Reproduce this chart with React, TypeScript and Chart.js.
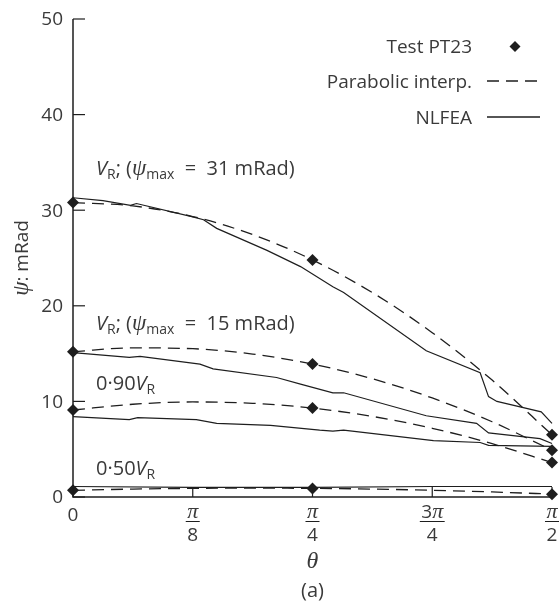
import React, { useEffect, useRef } from 'react';
import { Chart, registerables } from 'chart.js';
Chart.register(...registerables);

// ---------- data ----------
const xTickValues = [0, 1, 2, 3, 4];
const xTickNum = ['0', 'π', 'π', '3π', 'π'];
const xTickDen = ['', '8', '4', '4', '2'];
const yTickValues = [0, 10, 20, 30, 40, 50];

const testX = [0, 2, 4];
const testVR31 = [30.8, 24.8, 6.5];
const testVR15 = [15.2, 13.9, 4.9];
const test090 = [9.1, 9.3, 3.6];
const test050 = [0.7, 0.9, 0.3];

const parabX = [0, 0.5, 1, 1.5, 2, 2.5, 3, 3.5, 4];
const parabVR31 = [30.8, 30.45, 29.34, 27.45, 24.8, 21.38, 17.19, 12.23, 6.5];
const parabVR15 = [15.2, 15.6, 15.51, 14.95, 13.9, 12.37, 10.36, 7.87, 4.9];
const parab090 = [9.1, 9.7, 9.94, 9.8, 9.3, 8.43, 7.19, 5.58, 3.6];
const parab050 = [0.7, 0.83, 0.9, 0.93, 0.9, 0.83, 0.7, 0.53, 0.3];

const nlfeaX31 = [0, 0.25, 0.48, 0.53, 1.0, 1.09, 1.2, 1.62, 1.9, 2.17, 2.26, 2.95, 3.4, 3.47, 3.54, 3.91, 4.0];
const nlfeaY31 = [31.3, 31.0, 30.5, 30.7, 29.3, 29.0, 28.1, 25.8, 24.1, 22.0, 21.4, 15.3, 13.0, 10.5, 10.0, 8.9, 7.7];
const nlfeaX15 = [0, 0.47, 0.56, 1.06, 1.17, 1.7, 1.9, 2.17, 2.26, 2.95, 3.37, 3.47, 3.9, 4.0];
const nlfeaY15 = [15.1, 14.6, 14.7, 13.9, 13.4, 12.5, 11.8, 10.9, 10.9, 8.5, 7.7, 6.7, 6.1, 5.6];
const nlfeaX090 = [0, 0.47, 0.54, 1.03, 1.2, 1.65, 2.06, 2.17, 2.26, 3.01, 3.4, 3.47, 4.0];
const nlfeaY090 = [8.4, 8.1, 8.3, 8.1, 7.7, 7.5, 7.0, 6.9, 7.0, 5.9, 5.7, 5.4, 5.3];
const nlfeaX050 = [0, 1, 2, 3, 4];
const nlfeaY050 = [1.1, 1.0, 1.0, 1.1, 1.1];

// ---------- styles ----------
const SANS = '"Open Sans", "Noto Sans", sans-serif';
const SERIF = '"Liberation Serif", "DejaVu Serif", serif';
const TEXT = '#3a3a3a';
const INK = '#1e1e1e';
const FS = 19;
const AFS = 20;
const SUB = 14;

type Run = { t: string; f: string; dy?: number };

const pts = (xs: number[], ys: number[]) => xs.map((x, i) => ({ x, y: ys[i] }));

function runsWidth(ctx: CanvasRenderingContext2D, runs: Run[]) {
  let w = 0;
  for (const r of runs) {
    ctx.font = r.f;
    w += ctx.measureText(r.t).width;
  }
  return w;
}

function drawRuns(ctx: CanvasRenderingContext2D, runs: Run[], x: number, y: number, align: 'left' | 'right' | 'center') {
  const w = runsWidth(ctx, runs);
  let cx = align === 'right' ? x - w : align === 'center' ? x - w / 2 : x;
  ctx.textAlign = 'left';
  ctx.textBaseline = 'alphabetic';
  for (const r of runs) {
    ctx.font = r.f;
    ctx.fillText(r.t, cx, y + (r.dy || 0));
    cx += ctx.measureText(r.t).width;
  }
}

const sans = (s: number) => `${s}px ${SANS}`;
const isans = (s: number) => `italic ${s}px ${SANS}`;
const iserif = (s: number) => `italic ${s}px ${SERIF}`;

const annot = (n: string): Run[] => [
  { t: 'V', f: isans(AFS) }, { t: 'R', f: sans(SUB), dy: 4 }, { t: '; (', f: sans(AFS) },
  { t: 'ψ', f: iserif(AFS + 3) }, { t: 'max', f: sans(SUB), dy: 4 }, { t: '  =  ' + n + ' mRad)', f: sans(AFS) },
];

const decorPlugin = {
  id: 'decor',
  afterDraw(chart: any) {
    const { ctx, scales } = chart;
    const xs = scales.x;
    const ys = scales.y;
    const X0 = xs.getPixelForValue(0);
    const X4 = xs.getPixelForValue(4);
    const Y0 = ys.getPixelForValue(0);
    const Y50 = ys.getPixelForValue(50);
    ctx.save();
    // axes
    ctx.strokeStyle = INK;
    ctx.lineWidth = 1.5;
    ctx.setLineDash([]);
    ctx.beginPath();
    ctx.moveTo(X0, Y50);
    ctx.lineTo(X0, Y0);
    ctx.lineTo(X4, Y0);
    ctx.stroke();
    // y ticks (inward) and labels
    ctx.lineWidth = 1.2;
    ctx.fillStyle = TEXT;
    for (const v of yTickValues) {
      const py = ys.getPixelForValue(v);
      ctx.beginPath();
      ctx.moveTo(X0, py);
      ctx.lineTo(X0 + 12, py);
      ctx.stroke();
      ctx.font = sans(FS);
      ctx.textAlign = 'right';
      ctx.textBaseline = 'middle';
      ctx.fillText(String(v), X0 - 10, py + 1);
    }
    // x ticks (inward) and fraction labels
    xTickValues.forEach((v, i) => {
      const px = xs.getPixelForValue(v);
      ctx.beginPath();
      ctx.moveTo(px, Y0);
      ctx.lineTo(px, Y0 - 10);
      ctx.stroke();
      if (!xTickDen[i]) {
        ctx.font = sans(FS);
        ctx.textAlign = 'center';
        ctx.textBaseline = 'alphabetic';
        ctx.fillText(xTickNum[i], px, Y0 + 24);
      } else {
        const num = xTickNum[i];
        const runs: Run[] = num.length > 1
          ? [{ t: num[0], f: sans(FS) }, { t: num.slice(1), f: iserif(FS + 3) }]
          : [{ t: num, f: iserif(FS + 3) }];
        drawRuns(ctx, runs, px, Y0 + 21, 'center');
        const w = runsWidth(ctx, runs) + 3;
        ctx.lineWidth = 1;
        ctx.beginPath();
        ctx.moveTo(px - w / 2, Y0 + 24.5);
        ctx.lineTo(px + w / 2, Y0 + 24.5);
        ctx.stroke();
        ctx.lineWidth = 1.2;
        ctx.font = sans(FS);
        ctx.textAlign = 'center';
        ctx.textBaseline = 'alphabetic';
        ctx.fillText(xTickDen[i], px, Y0 + 44);
      }
    });
    // axis titles
    drawRuns(ctx, [{ t: 'θ', f: iserif(FS + 5) }], xs.getPixelForValue(2), 568, 'center');
    drawRuns(ctx, [{ t: '(a)', f: sans(FS + 1) }], xs.getPixelForValue(2), 597, 'center');
    ctx.save();
    ctx.translate(28, 258);
    ctx.rotate(-Math.PI / 2);
    drawRuns(ctx, [{ t: 'ψ', f: iserif(FS + 4) }, { t: ': mRad', f: sans(FS) }], 0, 0, 'center');
    ctx.restore();
    // curve annotations
    const lx = X0 + 23;
    drawRuns(ctx, annot('31'), lx, 175, 'left');
    drawRuns(ctx, annot('15'), lx, 330, 'left');
    drawRuns(ctx, [{ t: '0·90', f: sans(AFS) }, { t: 'V', f: isans(AFS) }, { t: 'R', f: sans(SUB), dy: 4 }], lx, 390, 'left');
    drawRuns(ctx, [{ t: '0·50', f: sans(AFS) }, { t: 'V', f: isans(AFS) }, { t: 'R', f: sans(SUB), dy: 4 }], lx, 475, 'left');
    // legend
    const legRight = 472;
    drawRuns(ctx, [{ t: 'Test PT23', f: sans(FS) }], legRight, 53, 'right');
    drawRuns(ctx, [{ t: 'Parabolic interp.', f: sans(FS) }], legRight, 88, 'right');
    drawRuns(ctx, [{ t: 'NLFEA', f: sans(FS) }], legRight, 124, 'right');
    ctx.fillStyle = INK;
    ctx.beginPath();
    const dx = 515, dy = 46.5, r = 5.5;
    ctx.moveTo(dx, dy - r);
    ctx.lineTo(dx + r, dy);
    ctx.lineTo(dx, dy + r);
    ctx.lineTo(dx - r, dy);
    ctx.closePath();
    ctx.fill();
    ctx.lineWidth = 1.3;
    ctx.setLineDash([12, 7]);
    ctx.beginPath();
    ctx.moveTo(487, 81);
    ctx.lineTo(540, 81);
    ctx.stroke();
    ctx.setLineDash([]);
    ctx.beginPath();
    ctx.moveTo(487, 117);
    ctx.lineTo(540, 117);
    ctx.stroke();
    ctx.restore();
  },
};

const testDs = (label: string, ys: number[]) => ({
  label,
  data: pts(testX, ys),
  showLine: false,
  pointStyle: 'rectRot',
  pointRadius: 6,
  pointBackgroundColor: INK,
  pointBorderColor: INK,
  pointBorderWidth: 0,
  clip: false,
});
const dashDs = (label: string, ys: number[]) => ({
  label,
  data: pts(parabX, ys),
  borderColor: INK,
  borderWidth: 1.3,
  borderDash: [12, 7],
  pointRadius: 0,
  cubicInterpolationMode: 'monotone',
  fill: false,
  clip: false,
});
const solidDs = (label: string, xs: number[], ys: number[]) => ({
  label,
  data: pts(xs, ys),
  borderColor: INK,
  borderWidth: 1.2,
  pointRadius: 0,
  fill: false,
  clip: false,
});

export default function App() {
  const ref = useRef<HTMLCanvasElement>(null);
  useEffect(() => {
    if (!ref.current) return;
    const chart = new Chart(ref.current, {
      type: 'line',
      data: {
        datasets: [
          testDs('Test VR31', testVR31),
          testDs('Test VR15', testVR15),
          testDs('Test 0.90', test090),
          testDs('Test 0.50', test050),
          dashDs('Parab VR31', parabVR31),
          dashDs('Parab VR15', parabVR15),
          dashDs('Parab 0.90', parab090),
          dashDs('Parab 0.50', parab050),
          solidDs('NLFEA VR31', nlfeaX31, nlfeaY31),
          solidDs('NLFEA VR15', nlfeaX15, nlfeaY15),
          solidDs('NLFEA 0.90', nlfeaX090, nlfeaY090),
          solidDs('NLFEA 0.50', nlfeaX050, nlfeaY050),
        ] as any,
      },
      options: {
        responsive: false,
        animation: false,
        layout: { padding: { left: 73, right: 7, top: 19, bottom: 106 } },
        plugins: { legend: { display: false }, tooltip: { enabled: false } },
        scales: {
          x: { type: 'linear', min: 0, max: 4, display: false },
          y: { type: 'linear', min: 0, max: 50, display: false },
        },
      },
      plugins: [decorPlugin],
    });
    return () => chart.destroy();
  }, []);
  return (
    <div style={{ position: 'fixed', left: 0, top: 0, width: 559, height: 603, background: '#fff' }}>
      <canvas ref={ref} width={559} height={603} style={{ display: 'block' }} />
    </div>
  );
}
